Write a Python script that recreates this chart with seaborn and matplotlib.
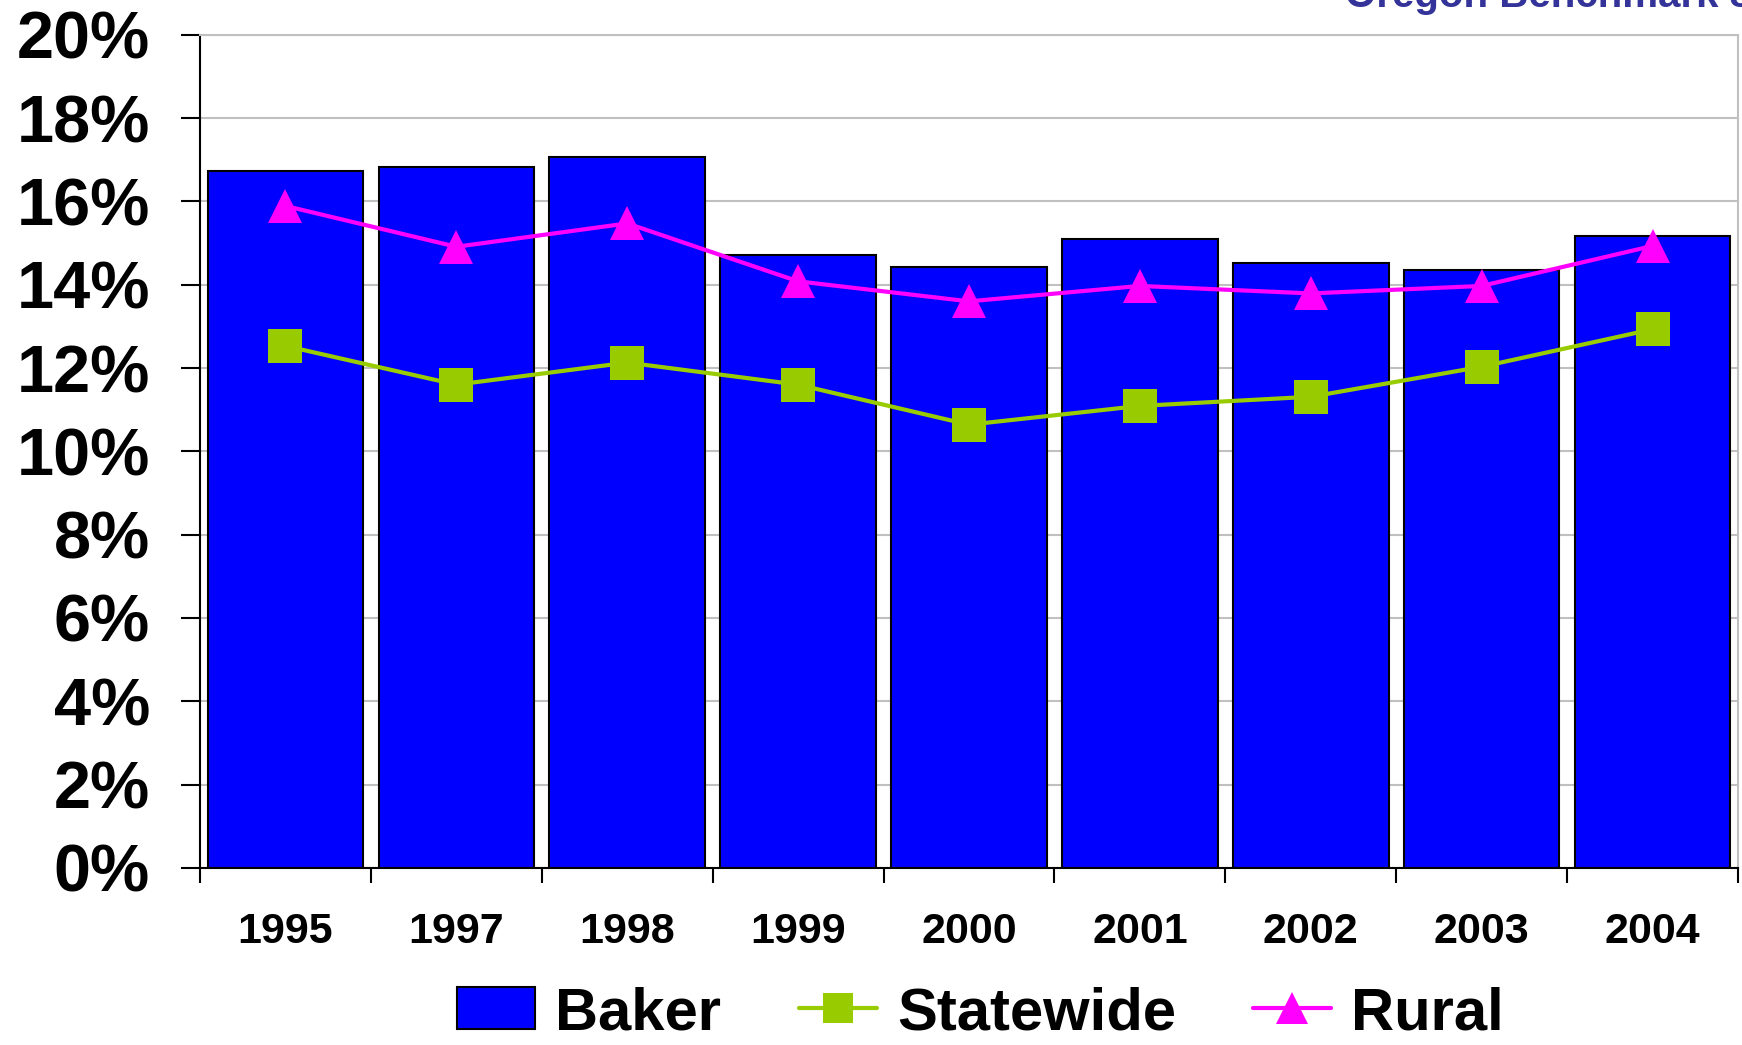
import matplotlib
matplotlib.use("Agg")
from matplotlib import pyplot as plt
import seaborn as sns
import numpy as np

# data (percent)
years = ['1995', '1997', '1998', '1999', '2000', '2001', '2002', '2003', '2004']
baker = [16.72, 16.83, 17.07, 14.72, 14.43, 15.09, 14.51, 14.35, 15.17]
statewide = [12.53, 11.60, 12.13, 11.60, 10.64, 11.09, 11.31, 12.03, 12.93]
rural = [15.89, 14.91, 15.47, 14.08, 13.60, 13.97, 13.79, 13.97, 14.93]
yticks = [0, 2, 4, 6, 8, 10, 12, 14, 16, 18, 20]

sns.set_theme(style='white')
plt.rcParams['font.family'] = ['Liberation Sans', 'DejaVu Sans']
plt.rcParams['font.weight'] = 'bold'
plt.rcParams['text.color'] = 'black'
plt.rcParams['xtick.color'] = 'black'
plt.rcParams['ytick.color'] = 'black'

fig = plt.figure(figsize=(17.42, 10.45), dpi=100)
ax = fig.add_axes([0.1148, 0.1694, 0.8829, 0.7974])

sns.barplot(x=years, y=baker, color='#0000FF', saturation=1, width=0.91,
            edgecolor='black', linewidth=1.5, label='Baker', ax=ax, zorder=2)
sns.pointplot(x=years, y=statewide, color='#99CC00', marker='s', markersize=24,
              markeredgewidth=0, linewidth=3, label='Statewide', ax=ax, zorder=3)
sns.pointplot(x=years, y=rural, color='#FF00FF', marker='^', markersize=25,
              markeredgewidth=0, linewidth=3, label='Rural', ax=ax, zorder=4)
if ax.get_legend() is not None:
    ax.get_legend().remove()

# axes styling
ax.set_ylim(0, 20)
ax.set_xlim(-0.5, 8.5)
ax.set_yticks(yticks)
ax.set_yticklabels([f'{v}%' for v in yticks], fontsize=48, fontweight='bold',
                   color='black')
ax.yaxis.grid(True, color='#C0C0C0', linewidth=1.5, zorder=0)
ax.set_axisbelow(True)
ax.tick_params(axis='y', direction='out', length=14, width=1.5, color='black',
               pad=22, left=True)

ax.set_xticks(range(len(years)))
ax.set_xticklabels(years, fontsize=31, fontweight='bold', color='black')
ax.set_xticks(np.arange(-0.5, len(years), 1), minor=True)
ax.tick_params(axis='x', which='major', length=0, pad=32)
ax.tick_params(axis='x', which='minor', direction='out', length=10.5, width=1.5,
               color='black', bottom=True)
ax.set_xlabel('')
ax.set_ylabel('')

for side in ['left', 'bottom']:
    ax.spines[side].set_color('black')
    ax.spines[side].set_linewidth(1.5)
for side in ['top', 'right']:
    ax.spines[side].set_color('#C0C0C0')
    ax.spines[side].set_linewidth(1.5)

# legend in Baker / Statewide / Rural order
handles, labels = ax.get_legend_handles_labels()
order = {'Baker': 0, 'Statewide': 1, 'Rural': 2}
pairs = sorted(zip(handles, labels), key=lambda p: order.get(p[1], 9))
leg = fig.legend([p[0] for p in pairs], [p[1] for p in pairs], loc='center',
                 bbox_to_anchor=(0.563, 0.03), ncol=3, frameon=False,
                 prop={'size': 43, 'weight': 'bold'}, handlelength=1.3,
                 handletextpad=0.34, columnspacing=1.3, markerscale=0.9,
                 borderpad=0.1)
for t in leg.get_texts():
    t.set_color('black')

fig.text(1.0057, 1 - 7 / 1045, 'Oregon Benchmark 8', ha='right', va='baseline',
         color='#333399', fontsize=29, fontweight='bold')

fig.savefig('out.png', dpi=100)
